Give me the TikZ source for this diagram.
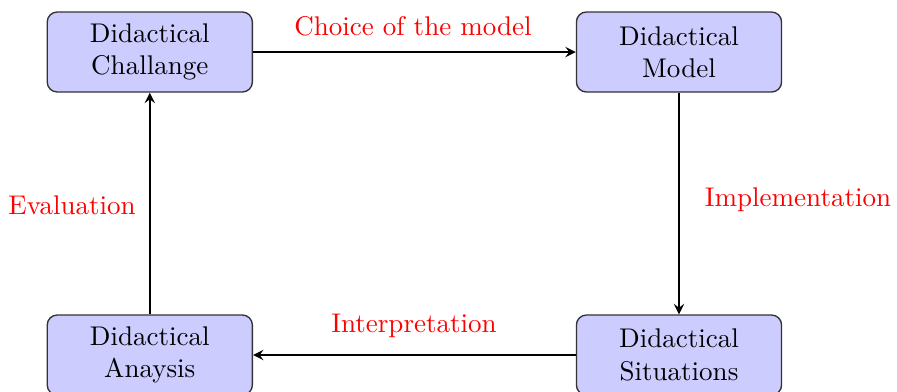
\documentclass[tikz,border=0pt]{standalone}
\begin{document}
\begin{tikzpicture}[x=0.37pt,y=-0.37pt,
  box/.style={draw=black!80,line width=0.5pt,fill=blue!20,rounded corners=3.7pt,
    minimum width=75.9pt,minimum height=29.6pt,align=center,inner sep=0pt},
  conn/.style={-stealth,line width=0.7pt},
  lab/.style={text=red}]
\useasboundingbox (0,0) rectangle (897,391);
\node[box] (ch) at (149.8,52) {Didactical\\Challange};
\node[box] (mo) at (679,52) {Didactical\\Model};
\node[box] (an) at (149.8,355) {Didactical\\Anaysis};
\node[box] (si) at (679,355) {Didactical\\Situations};
\draw[conn] (ch) -- (mo);
\draw[conn] (mo) -- (si);
\draw[conn] (si) -- (an);
\draw[conn] (an) -- (ch);
\node[lab] (l1) at (413,26) {Choice of the model};
\node[lab] (l2) at (798,200) {Implementation};
\node[lab] (l3) at (414,326) {Interpretation};
\node[lab] (l4) at (72,205) {Evaluation};
\end{tikzpicture}
\end{document}
